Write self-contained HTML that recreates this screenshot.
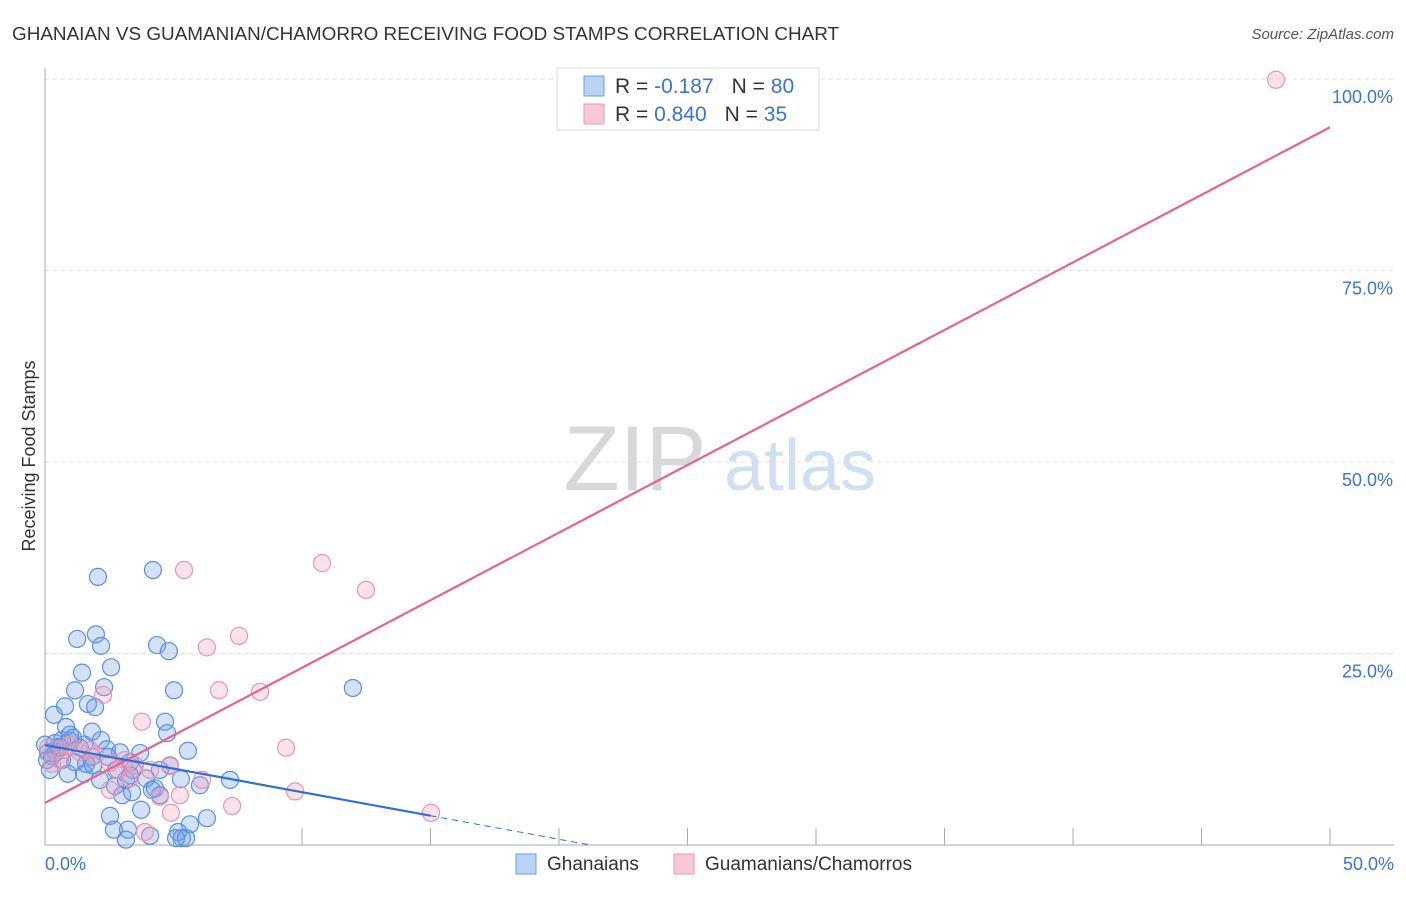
<!DOCTYPE html>
<html><head><meta charset="utf-8"><style>
body{margin:0;background:#fff;font-family:"Liberation Sans",sans-serif}
svg text{font-family:"Liberation Sans",sans-serif}
</style></head><body>
<svg id="c" width="1406" height="892">
<text x="12" y="40" font-size="18.9" fill="#333">GHANAIAN VS GUAMANIAN/CHAMORRO RECEIVING FOOD STAMPS CORRELATION CHART</text>
<text x="1394" y="39" font-size="15" fill="#555" text-anchor="end" font-style="italic">Source: ZipAtlas.com</text>
<text x="35" y="456" font-size="18" fill="#333" text-anchor="middle" transform="rotate(-90 35 456)">Receiving Food Stamps</text>
<g><text x="635" y="490" font-size="92" fill="#d8d8d8" text-anchor="middle" font-family="Liberation Serif">ZIP</text><text x="800" y="490" font-size="72" fill="#cfe0f3" text-anchor="middle">atlas</text></g>
<g id="grid"></g><g id="axes"></g><g id="pts"></g><g id="lines"></g>
<g>
<rect x="557" y="68" width="262" height="62" fill="#fff" stroke="#ddd"/>
<rect x="584" y="76" width="20" height="20" fill="#b9d3f5" stroke="#6d9de0"/>
<rect x="584" y="104" width="20" height="20" fill="#f9c8d6" stroke="#e99ab0"/>
<text x="615" y="93" font-size="21" fill="#333">R = <tspan fill="#3b73d1">-0.187</tspan><tspan dx="18">N = </tspan><tspan fill="#3b73d1">80</tspan></text>
<text x="615" y="121" font-size="21" fill="#333">R = <tspan fill="#3b73d1"> 0.840</tspan><tspan dx="18">N = </tspan><tspan fill="#3b73d1">35</tspan></text>
</g>
<g>
<rect x="516" y="854" width="20" height="20" fill="#b9d3f5" stroke="#6d9de0"/>
<text x="547" y="870" font-size="19" fill="#333">Ghanaians</text>
<rect x="674" y="854" width="20" height="20" fill="#f9c8d6" stroke="#e99ab0"/>
<text x="705" y="870" font-size="19" fill="#333">Guamanians/Chamorros</text>
</g>
</svg>
<script>
const yTicks=[25,50,75,100];
const yTickLabels=["25.0%","50.0%","75.0%","100.0%"];
const xTicks=[0,5,10,15,20,25,30,35,40,45,50];
const blueX=[2.06,4.20,1.25,1.98,2.18,4.36,4.82,1.44,2.57,1.17,2.30,5.02,11.98,0.35,0.78,1.67,1.95,0.82,4.67,4.75,1.83,0.39,0.97,1.52,2.18,2.41,3.70,5.56,0.12,0.27,0.51,0.66,1.17,1.83,2.92,3.31,3.42,0.89,1.52,2.14,3.15,4.86,5.29,6.03,7.20,2.72,3.00,3.39,4.16,4.47,3.74,2.53,6.30,5.64,2.68,3.23,4.09,5.18,5.33,5.49,3.15,0.08,0.0,0.58,1.36,1.09,0.43,2.45,1.60,3.31,3.93,4.28,0.66,0.19,0.97,1.87,4.47,5.10,2.76];
const blueY=[35.0,35.9,26.9,27.5,26.0,26.1,25.3,22.5,23.2,20.2,20.6,20.2,20.5,17.0,18.1,18.4,18.0,15.4,16.1,14.6,14.8,13.3,13.6,13.1,13.7,12.5,12.0,12.3,12.1,11.6,12.8,11.1,10.8,11.5,12.1,10.8,9.8,9.3,9.3,8.5,8.5,10.4,8.6,7.8,8.5,7.7,6.5,6.9,7.2,6.5,4.6,3.8,3.5,2.7,2.0,2.0,1.2,1.7,0.9,0.9,0.7,11.1,13.1,12.7,12.7,14.0,12.1,11.5,10.6,9.1,8.7,7.4,13.7,9.8,14.4,10.4,9.8,0.9,9.8];
const pinkX=[47.9,5.41,10.78,12.49,7.55,6.30,6.77,8.37,2.26,3.77,9.38,9.73,7.28,15.02,4.90,3.89,4.47,5.25,6.11,4.86,3.31,2.84,3.50,2.53,1.95,1.36,0.58,0.27,0.12,0.97,1.75,3.11,4.09,0.78,2.53];
const pinkY=[99.9,35.9,36.8,33.3,27.3,25.8,20.2,20.0,19.6,16.1,12.7,7.0,5.1,4.2,4.2,1.7,6.3,6.5,8.5,10.3,8.7,9.8,10.4,10.7,11.7,12.1,11.1,10.6,12.7,13.1,12.4,11.1,9.8,12.4,7.2];
const pinkLine=[5.5,93.7];   // y at x=0 and x=50
const blueLine=[13.05,-0.615]; // intercept, slope
const NS="http://www.w3.org/2000/svg";
const X0=45,X1=1330,Y0=845,Y100=79;
const sx=v=>X0+(X1-X0)*v/50, sy=v=>Y0-(Y0-Y100)*v/100;
function mk(t,a,p){const e=document.createElementNS(NS,t);for(const k in a)e.setAttribute(k,a[k]);p.appendChild(e);return e;}
const grid=document.getElementById('grid'),axes=document.getElementById('axes'),pts=document.getElementById('pts'),lines=document.getElementById('lines');
yTicks.forEach((v,i)=>{const l=mk('line',{x1:X0,x2:1394,y1:sy(v),y2:sy(v),stroke:'#ddd','stroke-dasharray':'4 4'},grid);


const t=mk('text',{x:1393,y:sy(v)+24,'font-size':18,fill:'#3b73d1','text-anchor':'end'},grid);t.textContent=yTickLabels[i];

});
mk('line',{x1:X0,x2:X0,y1:68,y2:Y0,stroke:'#aaa'},axes);
mk('line',{x1:X0,x2:1394,y1:Y0,y2:Y0,stroke:'#aaa'},axes);
xTicks.forEach(v=>{if(v>0){const l=mk('line',{x1:sx(v),x2:sx(v),y1:Y0,y2:Y0-17,stroke:'#aaa'},axes);

}});
let t=mk('text',{x:45,y:870,'font-size':18,fill:'#3b73d1'},axes);t.textContent="0.0%";


t=mk('text',{x:1394,y:870,'font-size':18,fill:'#3b73d1','text-anchor':'end'},axes);t.textContent="50.0%";


blueX.forEach((v,i)=>{const c=mk('circle',{cx:sx(v),cy:sy(blueY[i]),r:8.5,fill:'rgba(110,160,235,0.3)',stroke:'#5b8fe0','stroke-width':1.2},pts);

});
pinkX.forEach((v,i)=>{const c=mk('circle',{cx:sx(v),cy:sy(pinkY[i]),r:8.5,fill:'rgba(245,160,190,0.3)',stroke:'#eb94ae','stroke-width':1.2},pts);

});
let l=mk('line',{x1:sx(0),y1:sy(pinkLine[0]),x2:sx(50),y2:sy(pinkLine[1]),stroke:'#e8628f','stroke-width':2.2},lines);


l=mk('line',{x1:sx(0),y1:sy(blueLine[0]),x2:sx(15),y2:sy(blueLine[0]+blueLine[1]*15),stroke:'#2f6fd6','stroke-width':2.2},lines);


const xe=-blueLine[0]/blueLine[1];
l=mk('line',{x1:sx(15),y1:sy(blueLine[0]+blueLine[1]*15),x2:sx(xe),y2:sy(0),stroke:'#2f6fd6','stroke-width':1,'stroke-dasharray':'6 5'},lines);


</script>
</body></html>
